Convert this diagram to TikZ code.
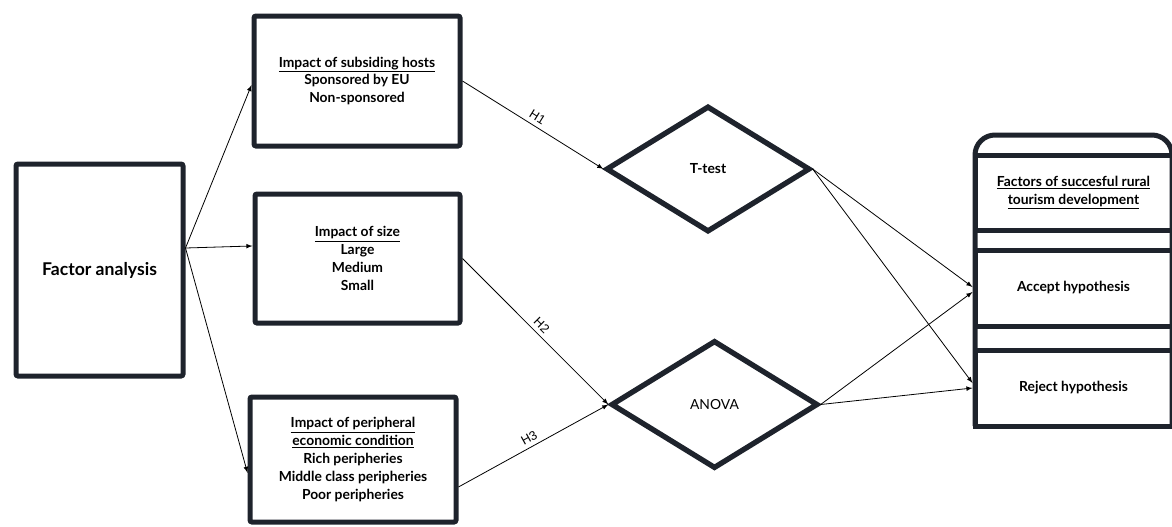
\documentclass[tikz,border=0pt]{standalone}
\usepackage{fontspec}
\setmainfont{Lato}
\newfontfamily\hlabfont{Liberation Sans}
\usepackage{xcolor}
\usetikzlibrary{arrows,shapes,positioning}
\definecolor{boxline}{HTML}{1E232C}

\begin{document}
\begin{tikzpicture}[x=0.75pt, y=-0.75pt,
    box/.style={draw=boxline, line width=3.75pt, rounded corners=1.5pt, align=center, inner sep=0pt,
      font=\fontsize{10.4}{13.4}\selectfont\bfseries},
    dia/.style={draw=boxline, line width=4pt, diamond, inner sep=0pt, font=\fontsize{10.4}{12}\selectfont},
    arr/.style={->, >=latex, line width=0.6pt},
    hlab/.style={midway, above, sloped, inner sep=3pt, font=\hlabfont\fontsize{9.5}{11}\selectfont}]
        \useasboundingbox (0,0) rectangle (1172,526);

        \node[box, minimum width=125.25pt, minimum height=159pt, font=\fontsize{13.2}{15}\selectfont\bfseries] (fa) at (99.5,270) {Factor analysis};

        \node[box, minimum width=154.5pt, minimum height=97.5pt] (sub) at (357,81)
            {\underline{Impact of subsiding hosts}\\Sponsored by EU\\Non-sponsored};
        \node[box, minimum width=153.75pt, minimum height=96.75pt] (size) at (357.5,258.5)
            {\underline{Impact of size}\\Large\\Medium\\Small};
        \node[box, minimum width=154.5pt, minimum height=93.75pt] (peri) at (353,459.5)
            {\underline{Impact of peripheral}\\\underline{economic condition}\\Rich peripheries\\Middle class peripheries\\Poor peripheries};

        \node[dia, minimum width=153pt, minimum height=94.5pt, font=\fontsize{10.4}{12}\selectfont\bfseries] (tt) at (708,169) {T-test};
        \node[dia, minimum width=155.25pt, minimum height=96pt] (av) at (714.5,404.5) {ANOVA};

        % stacked outcome box on the right
        \draw[draw=boxline, line width=3.75pt, rounded corners=15pt] (975,426) -- (975,135) -- (1172,135) -- (1172,426);
        \node[box, rounded corners=0pt, minimum width=147.75pt, minimum height=56.25pt] (hdr) at (1073.5,192.5)
            {\underline{Factors of succesful rural}\\\underline{tourism development}};
        \node[box, rounded corners=0pt, minimum width=147.75pt, minimum height=57pt] (acc) at (1073.5,288) {Accept hypothesis};
        \node[box, rounded corners=0pt, minimum width=147.75pt, minimum height=57pt] (rej) at (1073.5,388) {Reject hypothesis};

        \coordinate (fo) at ([yshift=16.5pt]fa.east);

        \draw[arr] (fo) -- ([yshift=-3pt]sub.west);
        \draw[arr] (fo) -- ([yshift=9.4pt]size.west);
        \draw[arr] (fo) -- ([yshift=-10pt]peri.west);

        \draw[arr] (sub.east) -- (tt.west) node[hlab] {H1};
        \draw[arr] (size.east) -- (av.west) node[hlab] {H2};
        \draw[arr] ([yshift=-20.6pt]peri.east) -- (av.west) node[hlab] {H3};

        \draw[arr] (tt.east) -- ([yshift=0.75pt]acc.west);
        \draw[arr] (tt.east) -- ([yshift=3.75pt]rej.west);
        \draw[arr] (av.east) -- ([yshift=-3pt]acc.west);
        \draw[arr] (av.east) -- (rej.west);
    \end{tikzpicture}
\end{document}
